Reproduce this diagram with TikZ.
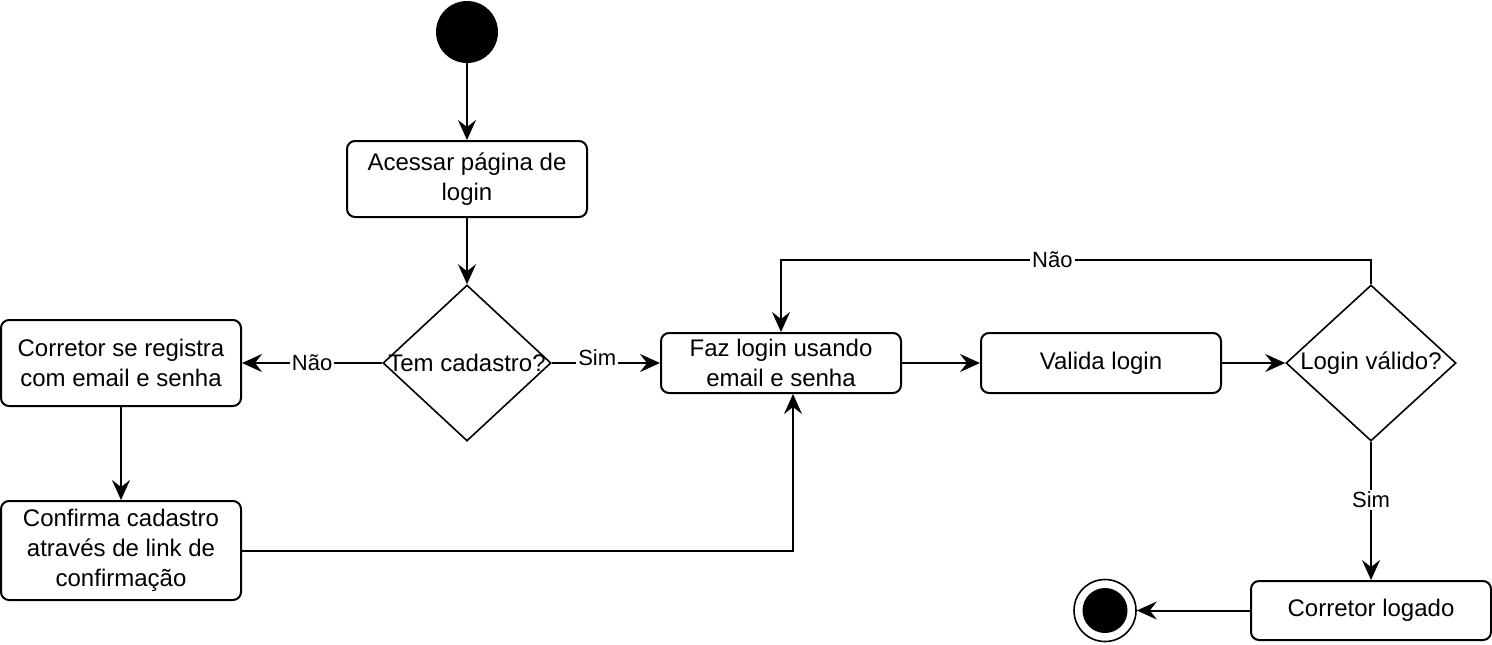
\documentclass[tikz,border=0pt]{standalone}
\usepackage{fontspec}
\setmainfont{Liberation Sans}
\usetikzlibrary{arrows.meta,shapes.geometric}
\tikzset{
    action/.style={draw,line width=1pt,rounded corners=4pt,minimum width=120pt,align=center,inner sep=2pt},
    decision/.style={draw,diamond,line width=0.8pt,minimum width=84pt,minimum height=78pt,inner sep=0pt},
    initial/.style={circle,fill=black,minimum size=31pt,inner sep=0pt},
    final/.style={circle,draw,line width=0.8pt,minimum size=31pt,inner sep=0pt,
        path picture={\fill (path picture bounding box.center) circle (11.25pt);}},
    transition/.style={black,-{Stealth[length=10pt,width=9pt,inset=3.5pt]},line width=1pt},
    answer/.style={fill=white,inner sep=1pt,font=\fontsize{11}{13}\selectfont}
}
\begin{document}
\begin{tikzpicture}[x=0.5pt,y=-0.5pt,font=\fontsize{12}{15}\selectfont]
\useasboundingbox (0,0) rectangle (1492,644);
\node[initial] (inicio) at (467,32) {};
\node[action,minimum height=38pt] (acessar) at (467,179) {Acessar página de\\login};
\node[decision,label=center:Tem cadastro?] (tem) at (467,363) {};
\node[action,minimum height=43pt] (registra) at (121,363) {Corretor se registra\\com email e senha};
\node[action,minimum height=49.5pt] (confirma) at (121,550.5) {Confirma cadastro\\através de link de\\confirmação};
\node[action,minimum height=30pt] (faz) at (781,363) {Faz login usando\\email e senha};
\node[action,minimum height=30pt] (valida) at (1101,363) {Valida login};
\node[decision,minimum width=85pt,label=center:Login válido?] (valido) at (1371,363) {};
\node[action,minimum height=29.5pt] (logado) at (1371,610.5) {Corretor logado};
\node[final] (fim) at (1105,610.5) {};
% fluxo
\draw[transition] (inicio) -- (acessar);
\draw[transition] (acessar) -- (tem);
\draw[transition] (tem) -- node[answer]{Não} (registra);
\draw[transition] (tem) -- node[answer,pos=0.42,yshift=2.5pt]{Sim} (faz);
\draw[transition] (registra) -- (confirma);
\draw[transition] (confirma) -| ([xshift=6pt]faz.south);
\draw[transition] (faz) -- (valida);
\draw[transition] (valida) -- (valido);
\draw[transition] (valido.north) |- node[answer,pos=0.77]{Não} ([yshift=36pt]faz.north) -- (faz.north);
\draw[transition] (valido) -- node[answer,pos=0.42]{Sim} (logado);
\draw[transition] (logado) -- (fim);
\end{tikzpicture}
\end{document}
